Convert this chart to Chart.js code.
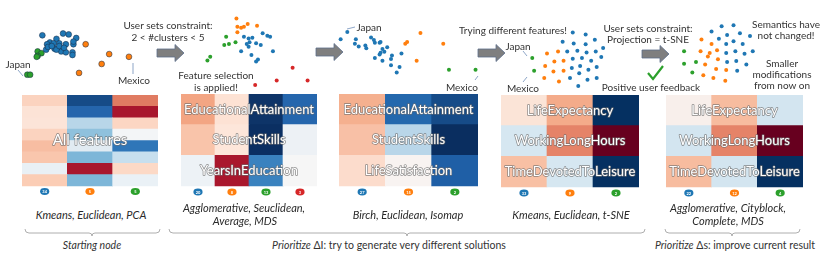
<!DOCTYPE html>
<html>
<head>
<meta charset="utf-8">
<script src="https://cdn.jsdelivr.net/npm/chart.js@4.4.0/dist/chart.umd.min.js"></script>
<style>
body { margin: 0; background: #fff; }
#wrap { position: relative; width: 830px; height: 259px; overflow: hidden; font-family: Lato, "Open Sans", sans-serif; color: #333; }
#wrap canvas { position: absolute; }
.t { position: absolute; white-space: nowrap; transform: translate(-50%, -50%); font-size: 10px; line-height: 1; }
.cap { font-style: italic; font-size: 11px; color: #2a2a2a; }
.foot { font-size: 10.5px; }
svg { position: absolute; left: 0; top: 0; }
</style>
</head>
<body>
<div id="wrap"></div>
<script>
const blue = '#1f77b4', orange = '#ff7f0e', green = '#2ca02c', red = '#d62728';
const clusterColors = [blue, orange, green, red];

// scatter projections, one set of arrays per step (local units of each panel)
const p1Blue = [[40,23],[62,21],[68,22],[76,26],[55,27],[48,31],[45,33],[52,32],[58,32],[65,33],[73,33],[73,30],[44,39],[53,38],[59,37],[60,41],[65,42],[72,42],[72,45],[55,39],[46,36],[58,35],[50,35],[63,37]];
const p1Orange = [[86,33],[111,44],[132,47],[103,55],[79,65]];
const p1Green = [[35,41],[39,43],[35,46],[34,47],[24,67],[27,67]];

const p2Orange = [[40,5],[41,14],[45,15],[48,14],[52,11],[62,13],[41,20]];
const p2Blue = [[68,21],[73,24],[76,25],[48,25],[53,27],[57,26],[54,31],[51,33],[61,32],[66,34],[53,36],[45,41],[79,41],[56,45],[63,50],[61,52]];
const p2Green = [[29,25],[39,31],[32,33],[27,34],[12,47],[9,51]];
const p2Red = [[100,59],[83,73],[116,73],[60,78]];

const p3Blue = [[14,20],[7,28],[23,28],[39,26],[42,29],[43,32],[48,32],[49,31],[22,33],[26,36],[33,35],[34,38],[56,37],[51,39],[53,42],[49,43],[48,45],[61,46],[71,44],[43,49],[51,52],[60,50],[60,57],[69,59],[66,65]];
const p3Orange = [[91,21],[77,31],[75,33],[115,33],[87,52]];
const p3Green = [[121,62],[149,62]];

const p4Blue = [[53,15],[67,17],[42,25],[54,27],[67,28],[77,23],[86,32],[47,36],[58,35],[68,37],[78,36],[53,44],[63,43],[73,46],[84,42],[52,54],[61,52],[70,56],[79,53],[50,65],[60,60],[69,67],[79,65],[59,74]];
const p4Orange = [[25,38],[37,36],[33,47],[43,46],[23,52],[32,58],[43,57],[22,65],[38,69]];
const p4Green = [[9,43],[11,57]];

const p5Blue = [[65,7],[52,8],[41,14],[58,18],[72,16],[83,19],[49,22],[65,25],[57,28],[75,28],[67,36],[57,38],[77,39],[86,36],[58,48],[68,47],[79,51],[69,58]];
const p5Orange = [[30,23],[41,28],[29,36],[39,38],[47,35],[37,42],[48,45],[34,51],[46,56],[57,57],[32,63],[43,66],[56,69]];
const p5Green = [[11,36],[11,50],[24,48],[20,60]];

// heatmap cell colours, rows top to bottom, one column per cluster
const h1Cells = [
  ['#fbd3bf','#164b87','#e07b62'],
  ['#fce3d6','#2565ac','#a8162d'],
  ['#fce4d8','#b8d6e9','#fcd6c3'],
  ['#fbd3bf','#8fc1dd','#f3f5f7'],
  ['#f7bda2','#e1ebf2','#2f76b8'],
  ['#f9c6ad','#7db6d8','#c7dfee'],
  ['#e9f0f5','#a8162d','#fcd9c6'],
  ['#fbcdb5','#7db6d8','#eaf1f6']
];
const h2Cells = [
  ['#f3a583','#fde2d4','#0e3468','#2566ad'],
  ['#f9c4aa','#fde6da','#0b2f62','#edf1f5'],
  ['#edf2f6','#a9172d','#3a82bf','#f6f6f6']
];
const h3Cells = [
  ['#f5b08f','#2468ad','#164b88'],
  ['#f8c0a6','#b9d6e9','#0a2e60'],
  ['#fcdccc','#f8f3f1','#1f5fa6']
];
const h4Cells = [
  ['#fbe4d7','#f4ab8a','#053061'],
  ['#d6e7f1','#e58368','#67001f'],
  ['#f8c0a4','#d6e7f1','#053061']
];
const h5Cells = [
  ['#f8efeb','#f7bc9f','#d3e5f0'],
  ['#d3e5f0','#e58368','#67001f'],
  ['#f7bc9f','#d3e5f0','#053061']
];

const h1Counts = [34, 5, 5];
const h2Counts = [20, 8, 13, 3];
const h3Counts = [27, 15, 2];
const h4Counts = [33, 9, 2];
const h5Counts = [22, 12, 4];

const h1Features = ['All features'];
const h2Features = ['EducationalAttainment', 'StudentSkills', 'YearsInEducation'];
const h3Features = ['EducationalAttainment', 'StudentSkills', 'LifeSatisfaction'];
const h4Features = ['LifeExpectancy', 'WorkingLongHours', 'TimeDevotedToLeisure'];
const h5Features = ['LifeExpectancy', 'WorkingLongHours', 'TimeDevotedToLeisure'];

const wrap = document.getElementById('wrap');

function addCanvas(left, top, w, h) {
  const c = document.createElement('canvas');
  c.width = w; c.height = h;
  c.style.left = left + 'px'; c.style.top = top + 'px';
  wrap.appendChild(c);
  return c;
}

function scatter(rect, sets, radius, outlined) {
  const [left, top, w, h] = rect;
  new Chart(addCanvas(left, top, w, h), {
    type: 'scatter',
    data: {
      datasets: sets.map(([pts, col]) => ({
        data: pts.map(([x, y]) => ({ x, y })),
        backgroundColor: col,
        borderColor: outlined ? 'rgba(25,45,70,0.75)' : col,
        borderWidth: outlined ? 0.7 : 0,
        pointRadius: radius,
        clip: false
      }))
    },
    options: {
      responsive: false, animation: false, events: [],
      layout: { padding: 0 },
      plugins: { legend: { display: false }, tooltip: { enabled: false } },
      scales: {
        x: { type: 'linear', display: false, min: 0, max: w },
        y: { type: 'linear', display: false, min: 0, max: h, reverse: true }
      }
    }
  });
}

const heatLabels = {
  id: 'heatLabels',
  afterDatasetsDraw(chart, args, opts) {
    const { ctx, chartArea } = chart;
    const xs = chart.scales.x, ys = chart.scales.y;
    const n = opts.rows;
    ctx.save();
    // cluster size badges
    opts.counts.forEach((cnt, i) => {
      const cx = xs.getPixelForValue(i);
      const cy = ys.getPixelForValue(ys.min / 2);
      ctx.beginPath();
      ctx.ellipse(cx, cy, 4.6, 3.4, 0, 0, Math.PI * 2);
      ctx.fillStyle = clusterColors[i];
      ctx.fill();
      ctx.fillStyle = '#fff';
      ctx.font = 'bold 4px Lato, sans-serif';
      ctx.textAlign = 'center';
      ctx.textBaseline = 'middle';
      ctx.fillText(String(cnt), cx, cy + 0.3);
    });
    // feature names
    ctx.font = opts.fontSize + 'px Lato, sans-serif';
    ctx.lineJoin = 'round';
    opts.features.forEach((txt, j) => {
      const v = n - (j + 0.5) * n / opts.features.length;
      const ty = ys.getPixelForValue(v);
      const tx = (chartArea.left + chartArea.right) / 2;
      ctx.lineWidth = 1.4;
      ctx.strokeStyle = 'rgba(110,110,110,0.8)';
      ctx.strokeText(txt, tx, ty);
      ctx.fillStyle = '#fff';
      ctx.fillText(txt, tx, ty);
    });
    ctx.restore();
  }
};

function heatmap(rect, cells, counts, features, fontSize) {
  const [left, top, w, gridH, badgeH] = rect;
  const n = cells.length;
  const rowH = gridH / n;
  new Chart(addCanvas(left, top, w, gridH + badgeH), {
    type: 'bar',
    data: {
      labels: counts.map((_, i) => String(i)),
      datasets: cells.slice().reverse().map(r => ({
        data: r.map(() => 1),
        backgroundColor: r,
        borderWidth: 0,
        categoryPercentage: 1,
        barPercentage: 1
      }))
    },
    options: {
      responsive: false, animation: false, events: [],
      layout: { padding: 0 },
      plugins: {
        legend: { display: false }, tooltip: { enabled: false },
        heatLabels: { rows: n, counts, features, fontSize }
      },
      scales: {
        x: { display: false, stacked: true },
        y: { display: false, stacked: true, min: -badgeH / rowH, max: n }
      }
    },
    plugins: [heatLabels]
  });
}

scatter([0, 10, 160, 90], [[p1Blue, blue], [p1Orange, orange], [p1Green, green]], 2.9, true);
scatter([195, 10, 125, 90], [[p2Blue, blue], [p2Orange, orange], [p2Green, green], [p2Red, red]], 2, false);
scatter([330, 10, 160, 80], [[p3Blue, blue], [p3Orange, orange], [p3Green, green]], 2, false);
scatter([520, 15, 100, 85], [[p4Blue, blue], [p4Orange, orange], [p4Green, green]], 2, false);
scatter([670, 15, 95, 75], [[p5Blue, blue], [p5Orange, orange], [p5Green, green]], 2, false);

heatmap([22, 95, 136, 91, 11], h1Cells, h1Counts, h1Features, 15);
heatmap([181, 94, 136, 92, 12], h2Cells, h2Counts, h2Features, 13);
heatmap([339, 94, 139, 92, 12], h3Cells, h3Counts, h3Features, 13);
heatmap([501, 95, 138, 92, 12], h4Cells, h4Counts, h4Features, 13);
heatmap([666, 95, 137, 92, 12], h5Cells, h5Counts, h5Features, 13);

// annotations
const notes = [
  ['Japan', 18, 64], ['Mexico', 134, 80],
  ['User sets constraint:', 168, 25], ['2 < #clusters < 5', 168, 37],
  ['Feature selection', 216, 75], ['is applied!', 216, 87],
  ['Japan', 369, 27], ['Mexico', 462, 87],
  ['Trying different features!', 513, 30],
  ['Japan', 518, 46], ['Mexico', 523, 88],
  ['User sets constraint:', 648, 28], ['Projection = t-SNE', 648, 39],
  ['Positive user feedback', 651, 87],
  ['Semantics have', 786, 24], ['not changed!', 786, 35],
  ['Smaller', 782, 63], ['modifications', 782, 74], ['from now on', 782, 85]
];
const captions = [
  ['Kmeans, Euclidean, PCA', 91, 214],
  ['Agglomerative, Seuclidean,', 244, 207], ['Average, MDS', 245, 220],
  ['Birch, Euclidean, Isomap', 408, 214],
  ['Kmeans, Euclidean, t-SNE', 571, 214],
  ['Agglomerative, Cityblock,', 728, 207], ['Complete, MDS', 728, 220]
];
const footers = [
  ['<i>Starting node</i>', 92, 245],
  ['<i>Prioritize</i> ΔI: try to generate very different solutions', 389, 245],
  ['<i>Prioritize</i> Δs: improve current result', 735, 245]
];
function place(list, cls) {
  list.forEach(([txt, x, y]) => {
    const d = document.createElement('div');
    d.className = 't ' + cls;
    d.innerHTML = txt;
    d.style.left = x + 'px'; d.style.top = y + 'px';
    wrap.appendChild(d);
  });
}
place(notes, '');
place(captions, 'cap');
place(footers, 'foot');

// arrows, leader lines, brackets, check mark
function arrow(x0, x1, cy) {
  const hx = x1 - 9;
  return `<polygon points="${x0},${cy-4} ${hx},${cy-4} ${hx},${cy-8.5} ${x1},${cy} ${hx},${cy+8.5} ${hx},${cy+4} ${x0},${cy+4}" fill="#7f7f7f" stroke="#5d6f8c" stroke-width="0.8"/>`;
}
function bracket(a, b, m, y) {
  return `<path d="M${a},${y-4} Q${a},${y} ${a+4},${y} L${m-3},${y} Q${m},${y} ${m},${y+3} Q${m},${y} ${m+3},${y} L${b-4},${y} Q${b},${y} ${b},${y-4}" fill="none" stroke="#9a9a9a" stroke-width="0.8"/>`;
}
const svg = `<svg width="830" height="259" xmlns="http://www.w3.org/2000/svg">
${arrow(157, 184, 53)}${arrow(316, 343, 52)}${arrow(478, 505, 53)}${arrow(642, 669, 54)}
<g stroke="#5b7fb0" stroke-width="0.7" fill="none">
<line x1="18" y1="70" x2="23" y2="76"/><line x1="133" y1="63" x2="133" y2="74"/>
<line x1="355" y1="27" x2="347" y2="29"/><line x1="475" y1="80" x2="478" y2="76"/>
<line x1="523" y1="51" x2="527" y2="56"/><line x1="523" y1="82" x2="527" y2="77"/>
</g>
<polyline points="648,73 653,79 663,66" fill="none" stroke="#2ca02c" stroke-width="2.2"/>
${bracket(25, 160, 92, 233)}${bracket(169, 645, 407, 233)}${bracket(665, 800, 732, 233)}
</svg>`;
wrap.insertAdjacentHTML('beforeend', svg);
</script>
</body>
</html>
